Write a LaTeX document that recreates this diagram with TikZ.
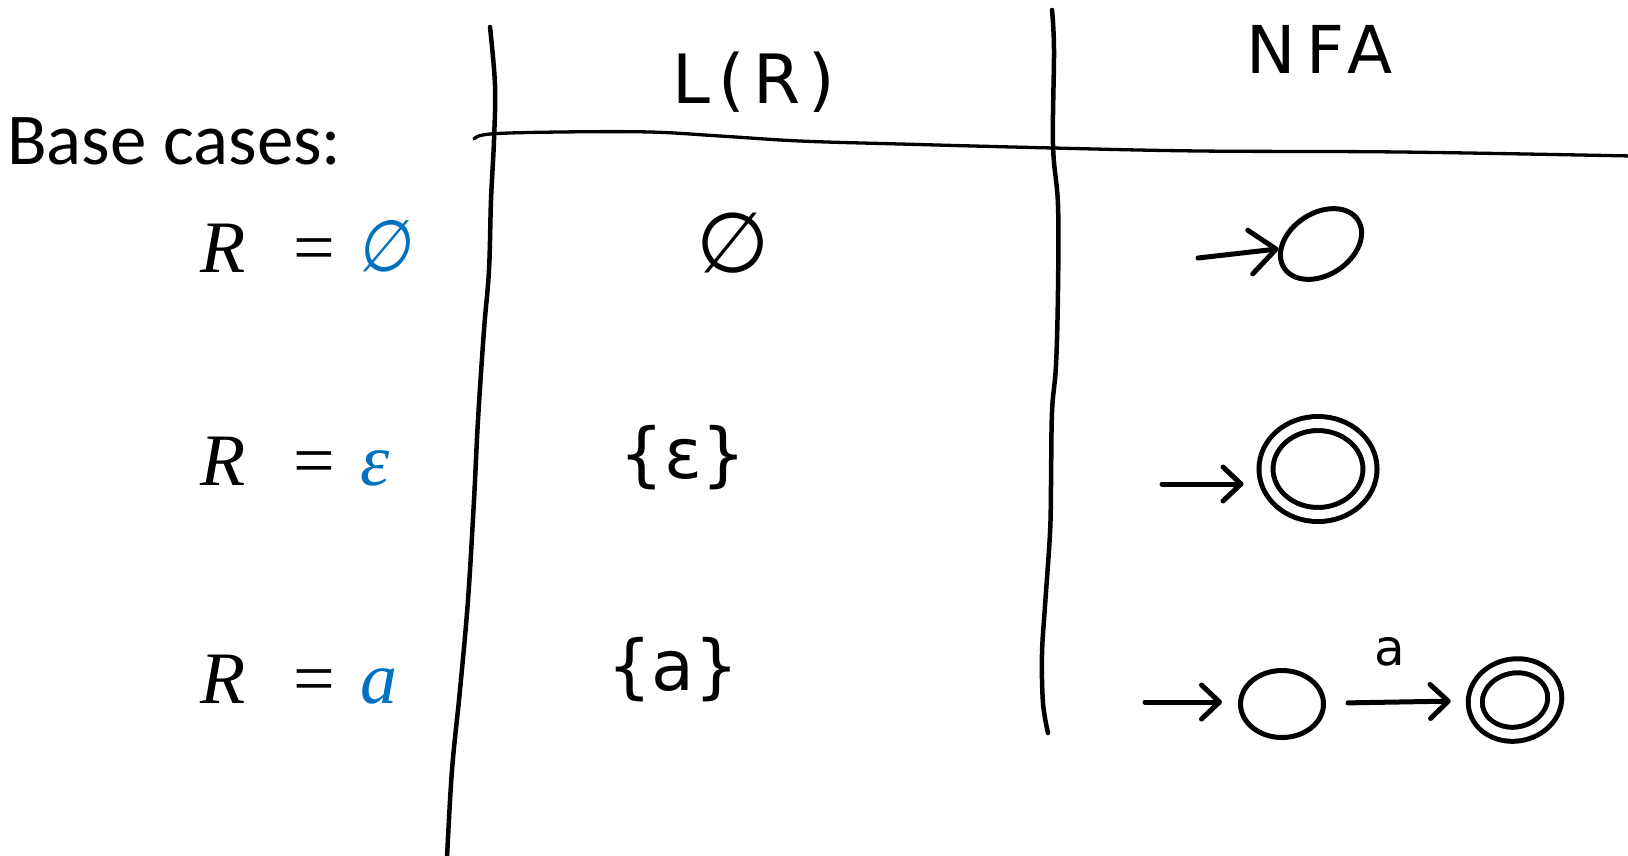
\documentclass[tikz,border=0pt]{standalone}
\usepackage{fontspec}
\usetikzlibrary{shapes.geometric,arrows.meta}
\newfontfamily\slidefont{Carlito}
\newfontfamily\penfont{DejaVu Sans}
\newfontfamily\formulafont{Liberation Serif}
\definecolor{slideblue}{HTML}{0070C0}
\begin{document}
\begin{tikzpicture}[x=1pt,y=-1pt,
  rule/.style={line width=4.5pt,line cap=round,line join=round},
  pen/.style={line width=5pt,line cap=round,line join=round},
  state/.style={ellipse,draw,line width=5pt,inner sep=0pt},
  final/.style={state,double,double distance=9pt},
  trans/.style={pen,-{Straight Barb[length=18pt,width=34pt,round]}},
  hand/.style={inner sep=0pt,font=\penfont\fontsize{#1}{#1}\selectfont},
  mtxt/.style={inner sep=0pt,anchor=base west,font=\formulafont\fontsize{74}{80}\selectfont}]
\useasboundingbox (0,0) rectangle (1628,855);

% table rules
\draw[rule] plot[smooth,tension=0.6] coordinates {(490,27) (495,85) (494,140) (491,200) (489,270) (484,330) (478,420) (474,500) (468,600) (460,690) (452,770) (447,858)};
\draw[rule] plot[smooth,tension=0.6] coordinates {(1052,10) (1054,50) (1053,145) (1058,205) (1058,290) (1056,365) (1052,412) (1051,485) (1050,533) (1045,606) (1042,654) (1043,703) (1048,733)};
\draw[line width=3.3pt,line cap=round] plot[smooth,tension=0.6] coordinates {(474,139) (490,134) (560,132) (650,132) (720,136) (800,141) (900,144) (1053,148) (1200,151) (1400,152) (1632,156)};

% left column
\node[anchor=base west,inner sep=0pt,font=\slidefont\fontsize{73}{80}\selectfont] (title) at (7,164) {Base cases:};

\node[mtxt] (r1) at (200,272) {\itshape R};
\node[mtxt] (q1eq) at (293,272) {=};
\node[inner sep=0pt,text=slideblue,xscale=0.85,font=\penfont\fontsize{72}{80}\selectfont] (v1) at (384,246) {\addfontfeature{FakeSlant=0.18}∅};

\node[mtxt] (r2) at (200,485) {\itshape R};
\node[mtxt] (q2eq) at (293,485) {=};
\node[mtxt,text=slideblue] (v2) at (360,485) {\itshape ε};

\node[mtxt] (r3) at (200,703) {\itshape R};
\node[mtxt] (q3eq) at (293,703) {=};
\node[mtxt,text=slideblue] (v3) at (360,703) {\itshape a};

% column headings
\node[hand=68,anchor=base] (lr) at (754,103) {\addfontfeature{LetterSpace=12}L(R)};
\node[hand=66,anchor=base] (nfa) at (1320,73) {\addfontfeature{LetterSpace=15}NFA};

% languages
\node[hand=84] (lang1) at (733,243) {∅};
\node[hand=70,anchor=base] (lang2) at (683,478) {\{ε\}};
\node[hand=70,anchor=base] (lang3) at (673,690) {\{a\}};

% NFA for the empty set
\node[state,rotate=33,minimum width=88pt,minimum height=62pt] (q1) at (1321,244) {};
\coordinate (in1) at (1198,258);
\draw[pen,-{Straight Barb[length=26pt,width=44pt,round]}] (in1) -- (q1);

% NFA for epsilon
\node[final,minimum width=104pt,minimum height=91pt] (q2) at (1318,469) {};
\coordinate (in2) at (1162,484);
\draw[trans,shorten >=20pt] (in2) -- (in2 -| q2.west);

% NFA for a single symbol
\node[state,minimum width=83pt,minimum height=67pt] (q3) at (1282,704) {};
\node[final,rotate=12,minimum width=80pt,minimum height=68pt] (q4) at (1515,700) {};
\coordinate (in3) at (1145,702);
\draw[trans,shorten >=16pt] (in3) -- (in3 -| q3.west);
\draw[trans,shorten <=22pt,shorten >=22pt] (q3) -- (q4);
\node[hand=50] (sym) at (1390,652) {a};
\end{tikzpicture}
\end{document}
